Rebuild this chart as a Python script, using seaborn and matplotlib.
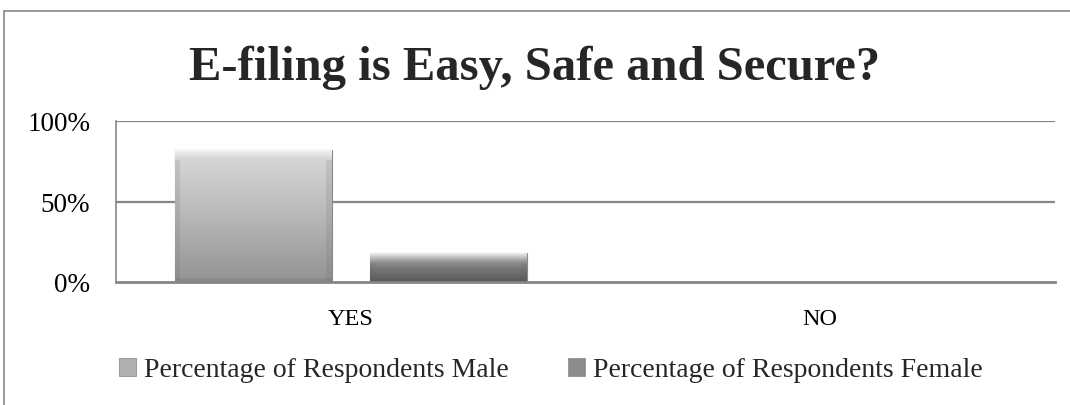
import numpy as np
import pandas as pd
import matplotlib
matplotlib.use("Agg")
import matplotlib.pyplot as plt
import seaborn as sns
from matplotlib.patches import Rectangle
from matplotlib.colors import LinearSegmentedColormap

categories = ["YES", "NO"]
series_names = ["Percentage of Respondents Male", "Percentage of Respondents Female"]
male_values = [82, 0]
female_values = [18, 0]
y_ticks = [0, 50, 100]
y_tick_labels = ["0%", "50%", "100%"]
title_text = "E-filing is Easy, Safe and Secure?"

df = pd.DataFrame({
    "Answer": categories * 2,
    "Series": [series_names[0]] * len(categories) + [series_names[1]] * len(categories),
    "Value": male_values + female_values,
})

sns.set_theme(style="white")
plt.rcParams["font.family"] = ["Liberation Serif", "DejaVu Serif"]

W, H = 1070, 406
fig = plt.figure(figsize=(W / 100, H / 100), dpi=100)
ax = fig.add_axes([116 / W, (H - 283) / H, (1055 - 116) / W, (283 - 122) / H])

sns.barplot(data=df, x="Answer", y="Value", hue="Series", order=categories,
            hue_order=series_names, palette=["#b8b8b8", "#8a8a8a"],
            width=0.83, gap=0.195, ax=ax, legend=False, edgecolor="#8a8a8a",
            linewidth=0.8)

ax.set_ylim(0, 100)
ax.set_xlim(-0.5, len(categories) - 0.5)
ax.set_yticks(y_ticks)
ax.set_yticklabels(y_tick_labels)
ax.set_xlabel("")
ax.set_ylabel("")
ax.tick_params(axis="y", length=0, pad=18.5, labelsize=19.5, colors="black")
ax.tick_params(axis="x", length=0, pad=19, labelsize=17.5, colors="black")

for s in ["top", "right"]:
    ax.spines[s].set_visible(False)
ax.spines["left"].set_color("#868686")
ax.spines["left"].set_linewidth(1.2)
ax.spines["bottom"].set_color("#868686")
ax.spines["bottom"].set_linewidth(2)
for yv in y_ticks[1:]:
    ax.axhline(yv, color="#868686", lw=1.6, zorder=0.5)

# gradient fill on each bar, clipped to the bar patch
cmaps = [LinearSegmentedColormap.from_list("m", ["#939393", "#b8b8b8", "#dadada"]),
         LinearSegmentedColormap.from_list("f", ["#585858", "#7a7a7a", "#b4b4b4"])]
grad = np.linspace(0, 1, 256).reshape(-1, 1)
white_fade = np.ones((64, 1, 4))
white_fade[:, 0, 3] = np.linspace(0, 0.85, 64) ** 1.5
n_cat = len(categories)
for i, p in enumerate(list(ax.patches)):
    h = p.get_height()
    if h <= 0:
        continue
    cmap = cmaps[i // n_cat]
    x0, y0 = p.get_x(), p.get_y()
    w = p.get_width()
    z = p.get_zorder()
    im = ax.imshow(grad, cmap=cmap, aspect="auto", origin="lower",
                   extent=[x0, x0 + w, y0, y0 + h], zorder=z + 0.1,
                   interpolation="bicubic")
    im.set_clip_path(p)
    # bevel: fading light band on top, darker side strips and base
    bev = 6.0
    im2 = ax.imshow(white_fade, aspect="auto", origin="lower",
                    extent=[x0, x0 + w, y0 + h - bev, y0 + h], zorder=z + 0.2,
                    interpolation="bilinear")
    im2.set_clip_path(p)
    sw = w * 0.035
    for xs in (x0, x0 + w - sw):
        ax.add_patch(Rectangle((xs, y0), sw, h - bev, facecolor="#606060", alpha=0.15,
                               edgecolor="none", zorder=z + 0.2))
    ax.add_patch(Rectangle((x0, y0), w, min(2.5, h * 0.1), facecolor="#505050", alpha=0.15,
                           edgecolor="none", zorder=z + 0.2))
ax.set_xlim(-0.5, len(categories) - 0.5)
ax.set_ylim(0, 100)

fig.text(0.5, (H - 68) / H, title_text, ha="center", va="center",
         fontsize=35, fontweight="bold")

handles = [Rectangle((0, 0), 1, 1, facecolor=c, edgecolor="#909090", lw=0.6)
           for c in ["#b0b0b0", "#8c8c8c"]]
fig.legend(handles, series_names, loc="center", bbox_to_anchor=(551 / W, (H - 371) / H),
           ncol=2, frameon=False, fontsize=20, handlelength=0.6, handleheight=0.6,
           handletextpad=0.3, columnspacing=2.15)

# outer chart frame
fig.patches.append(Rectangle((4 / W, -0.2), 1.2, (H - 12) / H + 0.2, transform=fig.transFigure,
                             fill=False, edgecolor="#868686", lw=1.2))

fig.savefig("out.png", dpi=100)
